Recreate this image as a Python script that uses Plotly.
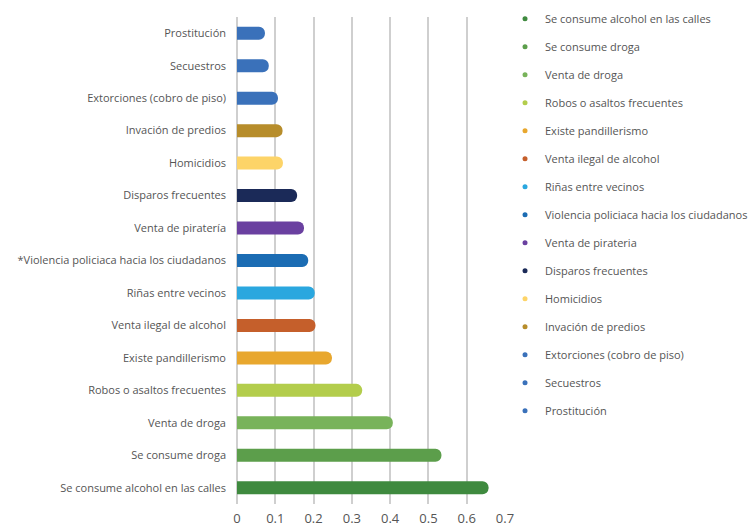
import plotly.graph_objects as go

# Categories, bottom-to-top order of bars
categories = [
    "Se consume alcohol en las calles",
    "Se consume droga",
    "Venta de droga",
    "Robos o asaltos frecuentes",
    "Existe pandillerismo",
    "Venta ilegal de alcohol",
    "Riñas entre vecinos",
    "*Violencia policiaca hacia los ciudadanos",
    "Venta de piratería",
    "Disparos frecuentes",
    "Homicidios",
    "Invación de predios",
    "Extorciones (cobro de piso)",
    "Secuestros",
    "Prostitución",
]
legend_names = [
    "Se consume alcohol en las calles",
    "Se consume droga",
    "Venta de droga",
    "Robos o asaltos frecuentes",
    "Existe pandillerismo",
    "Venta ilegal de alcohol",
    "Riñas entre vecinos",
    "Violencia policiaca hacia los ciudadanos",
    "Venta de pirateria",
    "Disparos frecuentes",
    "Homicidios",
    "Invación de predios",
    "Extorciones (cobro de piso)",
    "Secuestros",
    "Prostitución",
]
values = [0.657, 0.534, 0.407, 0.327, 0.248, 0.205, 0.203, 0.186,
          0.175, 0.157, 0.12, 0.119, 0.107, 0.083, 0.073]
colors = ["#3f8a3f", "#5c9e4b", "#78b35a", "#b3cd4c", "#e8a72e", "#c55f2b",
          "#2aa7df", "#1b6cb3", "#6a40a0", "#1b2a58", "#fdd468", "#b78d2b",
          "#3a71ba", "#3a71ba", "#3a71ba"]
x_ticks = [0, 0.1, 0.2, 0.3, 0.4, 0.5, 0.6, 0.7]

FONT = "Open Sans"
fig = go.Figure()
for i, (cat, name, v, c) in enumerate(zip(categories, legend_names, values, colors)):
    fig.add_trace(go.Bar(
        y=[cat], x=[v], orientation="h", marker=dict(color=c, cornerradius=7, line=dict(width=0)),
        width=0.4, showlegend=False, hoverinfo="x+y"))
    fig.add_trace(go.Scatter(
        x=[None], y=[None], mode="markers", name=name, legendgroup=f"g{i}",
        marker=dict(color=c, size=5, symbol="circle")))

fig.update_layout(
    width=756, height=527,
    margin=dict(l=237, r=250, t=17, b=23),
    paper_bgcolor="white", plot_bgcolor="white",
    barmode="overlay",
    font=dict(family=FONT, color="#555555", size=10),
    showlegend=True,
    legend=dict(
        xref="container", yref="container", x=0.668, y=0.992,
        xanchor="left", yanchor="top", maxheight=520,
        font=dict(family=FONT, size=11, color="#555555"),
        tracegroupgap=9.0, itemwidth=30, bgcolor="rgba(0,0,0,0)",
    ),
    xaxis=dict(
        range=[0, 0.7], tickvals=x_ticks, ticktext=["0", "0.1", "0.2", "0.3", "0.4", "0.5", "0.6", "0.7"],
        showgrid=True, gridcolor="#cfcfcf", gridwidth=1.5, zeroline=True, zerolinecolor="#cfcfcf",
        zerolinewidth=1.5, tickfont=dict(size=13, color="#555555", family=FONT), ticks="",
        automargin=False, ticklabelstandoff=5, fixedrange=True,
    ),
    yaxis=dict(
        categoryorder="array", categoryarray=categories, showgrid=False, automargin=False,
        tickfont=dict(size=11, color="#555555", family=FONT), ticks="", ticklabelstandoff=10,
        range=[-0.5, 14.5],
    ),
)

fig.write_html("out.html")
